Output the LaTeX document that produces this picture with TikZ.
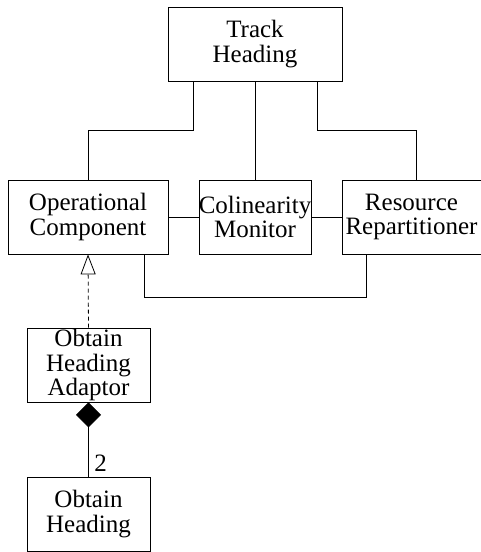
\documentclass[tikz,border=0pt]{standalone}
\usepackage{fontspec}
\setmainfont{Liberation Serif}
\usetikzlibrary{arrows.meta}
\begin{document}
\begin{tikzpicture}[x=1pt,y=-1pt,
  box/.style={draw,rectangle,inner sep=0pt,line width=0.8pt},
  lbl/.style={align=center,inner sep=0pt,font=\fontsize{25}{24.5}\selectfont},
  conn/.style={line width=0.8pt}]
\useasboundingbox (0,0) rectangle (481,552);
\clip (0,0) rectangle (481,552);
\node[box,minimum width=174pt,minimum height=74pt] (th) at (255,44) {};
\node[lbl] (tht) at (th.center) {Track\\Heading};
\node[box,minimum width=160pt,minimum height=74pt] (oc) at (88,217) {};
\node[lbl] (oct) at (oc.center) {Operational\\Component};
\node[box,minimum width=112pt,minimum height=74pt] (cm) at (255,217) {};
\node[lbl] (cmt) at (cm.center) {Colinearity\\Monitor};
\node[box,minimum width=144pt,minimum height=74pt] (rr) at (414,217) {};
\node[lbl] (rrt) at (411.5,217) {Resource\\Repartitioner};
\node[box,minimum width=123pt,minimum height=74pt] (oah) at (88.5,365) {};
\node[lbl] (oaht) at (oah.center) {Obtain\\Heading\\Adaptor};
\node[box,minimum width=123pt,minimum height=74pt] (oh) at (88.5,514) {};
\node[lbl] (oht) at (oh.center) {Obtain\\Heading};
% connectors
\coordinate (thL) at (193,81);
\coordinate (thR) at (317,81);
\coordinate (rrT) at (416,180);
\coordinate (ocB) at (144,254);
\coordinate (rrB) at (366,254);
\draw[conn] (thL) -- (193,130) -| (oc.north);
\draw[conn] (th.south) -- (cm.north);
\draw[conn] (thR) -- (317,130) -| (rrT);
\draw[conn] (oc.east) -- (cm.west);
\draw[conn] (cm.east) -- (rr.west);
\draw[conn] (ocB) |- (366,297) -- (rrB);
\draw[conn,dash pattern=on 4pt off 3pt,-{Triangle[open,length=20pt,width=15pt,line width=0.8pt]}] (oah.north) -- (oc.south);
\draw[conn,-{Diamond[length=25pt,width=25pt]}] (oh.north) -- (oah.south);
\node[lbl] (mult) at (100.5,463) {2};
\end{tikzpicture}
\end{document}
